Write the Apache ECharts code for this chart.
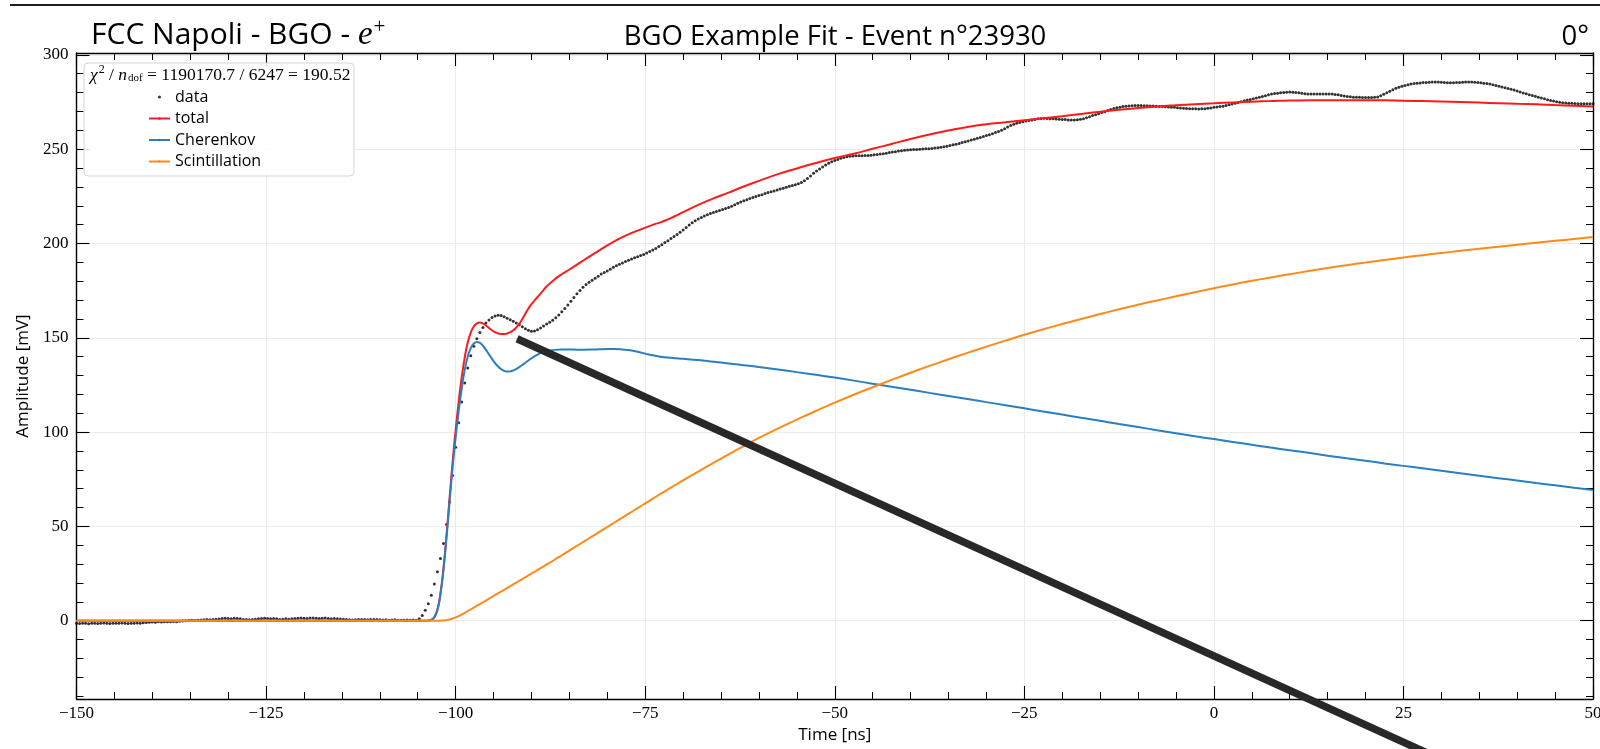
<!DOCTYPE html>
<html>
<head>
<meta charset="utf-8">
<title>BGO Example Fit - Event n°23930</title>
<script src="https://cdn.jsdelivr.net/npm/echarts@6/dist/echarts.min.js"></script>
<style>
  html, body { margin: 0; padding: 0; background: #ffffff; }
  #chart { width: 1600px; height: 749px; }
</style>
</head>
<body>
<div id="chart"></div>
<script>
// Digitizer time base: first sample and sampling period [ns]
const T0 = -150;
const DT = 0.4;

// Recorded waveform amplitude [mV], one value per sample starting at T0
const dataAmp = [
  // -150.0 ns
  -1.4, -1.5, -1.3, -1.4, -1.6, -1.4, -1.3, -1.5, -1.4, -1.2,
  -1.4, -1.5, -1.3, -1.4, -1.4, -1.2, -1.3, -1.5, -1.4, -1.3,
  -1.2, -1.3, -1.1,
  // -140.8 ns
  -0.9, -0.8, -0.7, -0.8, -0.6, -0.7, -0.5, -0.6, -0.5, -0.4, -0.5, -0.3, -0.2,
  // -135.6 ns
  0.0, 0.1, 0.2, 0.1, 0.3, 0.4, 0.5,
  0.6, 0.5, 0.7, 0.8, 0.9,
  1.2, 1.3, 1.2, 1.1, 1.3, 1.2, 1.0,
  0.7, 0.6, 0.5, 0.6, 0.8,
  1.1, 1.2, 1.3, 1.2, 1.1, 1.2, 1.0,
  0.7, 0.8, 1.1, 0.8, 1.0,
  // -121.2 ns
  1.2, 1.3, 1.4, 1.3, 1.2, 1.4, 1.5, 1.3, 1.2, 1.3, 1.4, 1.2, 1.1, 1.2, 1.0, 0.9, 0.8,
  // -114.4 ns
  0.6, 0.5, 0.4, 0.5, 0.6, 0.7, 0.6, 0.5, 0.6, 0.7, 0.6, 0.5, 0.4, 0.5, 0.3, 0.4,
  0.5, 0.3, 0.2, 0.3, 0.4, 0.3, 0.4,
  // -105.2 ns : leading edge
  0.3, 1.0, 2.8, 5.5, 9.0, 13.5, 19.5, 26.0, 33.0, 41.0,
  51.0, 63.0, 77.0, 92.0, 105.0, 116.0, 126.0, 134.0, 140.5, 145.5,
  149.5, 152.8, 155.5, 157.8, 159.5, 160.8, 161.6, 162.0, 161.8, 161.2,
  160.4, 159.6, 158.8, 157.9, 156.9, 155.8, 154.8, 154.0, 153.5, 153.6,
  // -89.2 ns
  154.3, 155.2, 156.2, 157.3, 158.3, 159.3, 160.6, 162.1, 163.8, 165.5,
  167.4, 169.4, 171.4, 173.3, 175.1, 176.8, 178.2, 179.4, 180.5, 181.6,
  182.7, 183.8, 184.6, 185.4, 186.4, 187.4, 188.2, 189.0, 189.7, 190.4,
  191.1, 191.8, 192.4, 193.0, 193.6, 194.2, 194.9, 195.7, 196.5, 197.4,
  // -73.2 ns
  198.4, 199.4, 200.5, 201.5, 202.6, 203.7, 204.8, 206.0, 207.2, 208.5,
  209.8, 211.0, 212.1, 213.0, 213.8, 214.6, 215.3, 215.9, 216.5, 217.0,
  217.5, 218.0, 218.5, 219.1, 219.8, 220.5, 221.3, 222.0, 222.7, 223.2,
  223.8, 224.4, 224.9, 225.4, 225.9, 226.5, 227.0, 227.5, 227.9, 228.4,
  // -57.2 ns
  228.9, 229.3, 229.8, 230.3, 230.8, 231.2, 231.7, 232.4, 233.3, 234.4,
  235.8, 237.2, 238.4, 239.5, 240.6, 241.6, 242.5, 243.3, 244.0, 244.6,
  245.2, 245.6, 246.0, 246.3, 246.4, 246.5, 246.5, 246.5, 246.6, 246.7,
  246.8, 247.0, 247.2, 247.4, 247.6, 247.9, 248.2, 248.5, 248.7, 249.0,
  // -41.2 ns
  249.2, 249.4, 249.6, 249.7, 249.8, 249.9, 250.0, 250.1, 250.2, 250.3,
  250.4, 250.6, 250.8, 251.0, 251.3, 251.6, 252.0, 252.3, 252.6, 253.0,
  253.5, 254.0, 254.4, 254.9, 255.3, 255.8, 256.2, 256.7, 257.2, 257.7,
  258.2, 258.8, 259.4, 260.1, 260.9, 261.8, 262.6, 263.2, 263.8, 264.2,
  // -25.2 ns
  264.6, 264.9, 265.2, 265.5, 265.8, 266.1, 266.3, 266.4, 266.3, 266.2,
  266.1, 266.0, 265.9, 265.8, 265.7, 265.5, 265.5, 265.5, 265.6, 265.9,
  266.2, 266.7, 267.2, 267.8, 268.3, 268.8, 269.4, 269.9, 270.5, 271.0,
  271.6, 272.0, 272.3, 272.6, 272.8, 272.9, 273.0, 273.1, 273.1, 273.1,
  // -9.2 ns
  273.0, 273.0, 272.9, 272.9, 272.8, 272.7, 272.6, 272.5, 272.4, 272.3,
  272.2, 272.0, 271.9, 271.7, 271.6, 271.5, 271.5, 271.4, 271.3, 271.4,
  271.5, 271.7, 271.9, 272.2, 272.4, 272.6, 272.8, 273.2, 273.6, 274.0,
  274.4, 274.8, 275.2, 275.7, 276.1, 276.4, 276.8, 277.1, 277.5, 277.9,
  // 6.8 ns
  278.4, 278.8, 279.2, 279.5, 279.7, 279.9, 280.0, 280.2, 280.3, 280.2,
  280.1, 279.9, 279.6, 279.4, 279.3, 279.3, 279.3, 279.3, 279.3, 279.3,
  279.3, 279.3, 279.2, 279.0, 278.8, 278.5, 278.2, 278.0, 277.8, 277.6,
  277.5, 277.5, 277.4, 277.4, 277.4, 277.4, 277.5, 277.7, 278.3, 279.1,
  // 22.8 ns
  279.9, 280.7, 281.5, 282.3, 282.8, 283.4, 283.8, 284.2, 284.5, 284.8,
  285.0, 285.1, 285.3, 285.4, 285.5, 285.6, 285.6, 285.6, 285.5, 285.4,
  285.2, 285.2, 285.2, 285.3, 285.4, 285.5, 285.6, 285.6, 285.6, 285.5,
  285.4, 285.2, 285.0, 284.8, 284.5, 284.2, 283.8, 283.4, 283.0, 282.6,
  // 38.8 ns
  282.2, 281.8, 281.4, 280.8, 280.3, 279.8, 279.4, 278.9, 278.5, 278.1,
  277.6, 277.2, 276.7, 276.2, 275.8, 275.5, 275.2, 274.9, 274.6, 274.5,
  274.4, 274.3, 274.2, 274.1, 274.1, 274.1, 274.1, 274.1, 274.1
];

// Fit model evaluated at these times [ns]
const fitTime = [
  -150, -125, -106, -104.4, -104.0, -103.6, -103.2, -102.8, -102.4, -102.0,
  -101.6, -101.2, -100.8, -100.4, -100.0, -99.6, -99.2, -98.8, -98.4, -98.0,
  -97.6, -97.2, -96.8, -96.4, -96.0, -95.6, -95.2, -94.8, -94.4, -94.0,
  -93.6, -93.2, -92.8, -92.4, -92.0, -91.6, -91.2, -90.8, -90.4, -90.0,
  -89.5, -89, -88.5, -88, -87, -86, -85, -84, -83, -82,
  -81, -80, -79, -78, -77, -76, -75, -74, -73, -72,
  -71, -70, -68, -66, -64, -62, -60, -57.5, -55, -52.5,
  -50, -47.5, -45, -42.5, -40, -37.5, -35, -32.5, -30, -27.5,
  -25, -22.5, -20, -17.5, -15, -12.5, -10, -7.5, -5, -2.5,
  0, 2.5, 5, 7.5, 10, 12.5, 15, 17.5, 20, 22.5,
  25, 27.5, 30, 32.5, 35, 37.5, 40, 42.5, 45, 47.5, 50
];

// Total fit [mV]
const totalAmp = [
  0, 0, 0, 0, 0, 0.1, 0.5, 2, 6, 14.5,
  28, 45.5, 65, 84, 101, 116, 129, 139.5, 147.5, 152.8,
  156, 157.7, 158.1, 157.6, 156.5, 155.2, 154, 153, 152.3, 152,
  152, 152.3, 153, 154, 155.5, 157.5, 160, 162.8, 165.5, 167.8,
  170.2, 172.5, 174.9, 177.2, 180.8, 183.7, 186.2, 188.8, 191.4, 194,
  196.5, 199, 201.3, 203.4, 205.2, 206.8, 208.4, 209.9, 211.2, 212.8,
  214.6, 216.6, 220.5, 223.9, 227, 230.2, 233.2, 236.8, 239.8, 242.7,
  245.3, 247.6, 250.2, 252.8, 255.4, 257.8, 259.9, 261.8, 263.2, 264.3,
  265.4, 266.4, 267.5, 268.7, 269.8, 270.9, 271.9, 272.7, 273.3, 273.8,
  274.3, 274.8, 275.2, 275.5, 275.8, 275.9, 276, 276, 276, 275.9,
  275.7, 275.5, 275.3, 275, 274.7, 274.4, 274.1, 273.8, 273.4, 273, 272.6
];

// Cherenkov component [mV]
const cherenkovAmp = [
  0, 0, 0, 0, 0, 0.1, 0.4, 1.8, 5.5, 14,
  27, 44, 63, 81, 97, 111, 123, 133, 140, 144.5,
  147, 147.8, 147.3, 145.8, 143.6, 141.2, 138.8, 136.6, 134.8, 133.4,
  132.5, 132.1, 132.2, 132.7, 133.5, 134.5, 135.6, 136.8, 138, 139.1,
  140.4, 141.5, 142.4, 143, 143.6, 143.8, 143.8, 143.7, 143.7, 143.8,
  143.9, 144, 144, 143.8, 143.4, 142.6, 141.6, 140.7, 140, 139.5,
  139.2, 138.9, 138.2, 137.3, 136.4, 135.5, 134.5, 133.2, 131.8, 130.4,
  128.9, 127.3, 125.7, 124.1, 122.5, 120.8, 119.2, 117.6, 115.9, 114.3,
  112.6, 110.9, 109.3, 107.6, 106, 104.3, 102.7, 101, 99.4, 97.8,
  96.3, 94.8, 93.3, 91.8, 90.4, 89, 87.5, 86.1, 84.8, 83.4,
  82.1, 80.8, 79.5, 78.2, 76.9, 75.6, 74.3, 73, 71.8, 70.5, 69.3
];

// Scintillation component [mV]
const scintAmp = [
  0, 0, 0, 0, 0, 0, 0, 0, 0, 0.05,
  0.15, 0.35, 0.7, 1.2, 1.8, 2.5, 3.3, 4.2, 5.1, 6.0,
  7.0, 7.9, 8.8, 9.8, 10.7, 11.7, 12.6, 13.6, 14.5, 15.5,
  16.4, 17.4, 18.3, 19.3, 20.2, 21.2, 22.1, 23.1, 24.0, 25.0,
  26.2, 27.4, 28.6, 29.8, 32.2, 34.7, 37.2, 39.7, 42.2, 44.7,
  47.2, 49.7, 52.2, 54.7, 57.2, 59.7, 62.2, 64.7, 67.2, 69.6,
  72.0, 74.4, 79.1, 83.7, 88.2, 92.6, 96.9, 101.9, 106.6, 111.2,
  115.6, 119.8, 123.8, 127.7, 131.5, 135.1, 138.6, 142, 145.3, 148.5,
  151.6, 154.5, 157.3, 160, 162.6, 165.1, 167.5, 169.8, 172, 174.2,
  176.3, 178.3, 180.2, 182, 183.7, 185.4, 187, 188.5, 189.9, 191.3,
  192.6, 193.8, 195, 196.1, 197.2, 198.3, 199.4, 200.4, 201.4, 202.4, 203.4
];

// Hand-drawn pointer stroke, in data coordinates (time [ns], amplitude [mV])
const pointerTime = [-91.9, 35];
const pointerAmp = [149.5, -82.7];

// Axis ticks
const xTickValues = [-150, -125, -100, -75, -50, -25, 0, 25, 50];
const yTickValues = [0, 50, 100, 150, 200, 250, 300];
const yMinorTickValues = [-40, -30, -20, -10, 10, 20, 30, 40, 60, 70, 80, 90,
  110, 120, 130, 140, 160, 170, 180, 190, 210, 220, 230, 240, 260, 270, 280, 290];

const X_MIN = -150, X_MAX = 50, Y_MIN = -41.5, Y_MAX = 301;

const waveform = dataAmp.map((v, i) => [+(T0 + i * DT).toFixed(1), v]);
const zipFit = arr => fitTime.map((t, i) => [t, arr[i]]);

const TICK_FONT = 'Liberation Serif';
const SANS = 'Open Sans';
const minusSign = v => String(v).replace('-', '\u2212');

const frameLine = { show: true, onZero: false, lineStyle: { color: '#000', width: 1.4 } };
const hiddenLine = { show: false, onZero: false };
const majorTick = (vals) => ({ show: true, inside: true, length: 13, customValues: vals,
  lineStyle: { color: '#000', width: 1.1 } });
const minorTickY = (vals) => ({ show: true, inside: true, length: 7, customValues: vals,
  lineStyle: { color: '#000', width: 1 } });
const minorTickX = { show: true, splitNumber: 5, length: 7, lineStyle: { color: '#000', width: 1 } };

const chart = echarts.init(document.getElementById('chart'), null, { renderer: 'canvas' });

chart.setOption({
  animation: false,
  backgroundColor: '#ffffff',
  title: [
    {
      text: '{t|FCC Napoli - BGO - }{e|e}{s|+}',
      left: 86, top: 12,
      textStyle: {
        fontWeight: 'normal',
        rich: {
          t: { fontFamily: SANS, fontSize: 30, fontWeight: 'normal', color: '#000' },
          e: { fontFamily: 'Liberation Serif', fontStyle: 'italic', fontWeight: 'normal', fontSize: 33, color: '#000' },
          s: { fontFamily: 'Liberation Serif', fontWeight: 'normal', fontSize: 21, color: '#000', padding: [0, 0, 16, 1] }
        }
      }
    },
    {
      text: 'BGO Example Fit - Event n°23930',
      left: 830, top: 18, textAlign: 'center',
      textStyle: { fontFamily: SANS, fontSize: 27.5, fontWeight: 'normal', color: '#000' }
    },
    {
      text: '0°',
      right: 6, top: 18,
      textStyle: { fontFamily: SANS, fontSize: 27.5, fontWeight: 'normal', color: '#000' }
    }
  ],
  grid: {
    left: 76.5, right: 7, top: 53, bottom: 50,
    containLabel: false, outerBoundsMode: 'none',
    show: false
  },
  legend: {
    orient: 'vertical',
    left: 148, top: 89,
    padding: 0,
    itemWidth: 21, itemHeight: 3, itemGap: 5.5,
    selectedMode: false,
    textStyle: { fontFamily: SANS, fontSize: 16, color: '#000' },
    data: ['data', 'total', 'Cherenkov', 'Scintillation']
  },
  graphic: [
    {
      type: 'line', z: 100,
      shape: { x1: 10, y1: 5, x2: 1600, y2: 5 },
      style: { stroke: '#1d1d2b', lineWidth: 2 }
    },
    {
      type: 'rect', z: 3,
      shape: { x: 84, y: 63, width: 270, height: 113, r: 4 },
      style: { fill: 'rgba(255,255,255,0.85)', stroke: '#d4d4d4', lineWidth: 1 }
    },
    {
      type: 'text', z: 5,
      left: 90, top: 64,
      style: {
        text: '{m|\u03c7}{sup|2}{r| / }{m|n}{sub|dof}{r| = 1190170.7 / 6247 = 190.52}',
        fill: '#000',
        rich: {
          m: { fontFamily: 'Liberation Serif', fontStyle: 'italic', fontSize: 17.5, fill: '#000' },
          r: { fontFamily: 'Liberation Serif', fontSize: 17.5, fill: '#000' },
          sup: { fontFamily: 'Liberation Serif', fontSize: 12, fill: '#000', padding: [0, 0, 10, 1] },
          sub: { fontFamily: 'Liberation Serif', fontSize: 11, fill: '#000', padding: [7, 0, 0, 1] }
        }
      }
    }
  ],
  xAxis: [
    {
      type: 'value', position: 'bottom',
      min: X_MIN, max: X_MAX, interval: 25,
      axisLine: frameLine,
      axisTick: majorTick(xTickValues),
      minorTick: minorTickX,
      splitLine: { show: true, lineStyle: { color: '#ebebeb', width: 1 } },
      axisLabel: {
        customValues: xTickValues,
        formatter: minusSign,
        fontFamily: TICK_FONT, fontSize: 17, color: '#000', margin: 6
      },
      name: 'Time [ns]', nameLocation: 'middle', nameGap: 27,
      nameTextStyle: { fontFamily: SANS, fontSize: 17, color: '#000' }
    },
    {
      type: 'value', position: 'top',
      min: X_MIN, max: X_MAX, interval: 25,
      axisLine: frameLine,
      axisTick: majorTick(xTickValues),
      minorTick: minorTickX,
      splitLine: { show: false },
      axisLabel: { show: false }
    }
  ],
  yAxis: [
    {
      type: 'value', position: 'left',
      min: Y_MIN, max: Y_MAX,
      axisLine: frameLine,
      axisTick: majorTick(yTickValues),
      splitLine: { show: true, lineStyle: { color: '#ebebeb', width: 1 } },
      axisLabel: {
        customValues: yTickValues,
        formatter: minusSign,
        fontFamily: TICK_FONT, fontSize: 17, color: '#000', margin: 8
      },
      name: 'Amplitude [mV]', nameLocation: 'middle', nameGap: 43,
      nameTextStyle: { fontFamily: SANS, fontSize: 17, color: '#000' }
    },
    {
      type: 'value', position: 'left',
      min: Y_MIN, max: Y_MAX,
      axisLine: hiddenLine,
      axisTick: minorTickY(yMinorTickValues),
      splitLine: { show: false },
      axisLabel: { show: false }
    },
    {
      type: 'value', position: 'right',
      min: Y_MIN, max: Y_MAX,
      axisLine: frameLine,
      axisTick: majorTick(yTickValues),
      splitLine: { show: false },
      axisLabel: { show: false }
    },
    {
      type: 'value', position: 'right',
      min: Y_MIN, max: Y_MAX,
      axisLine: hiddenLine,
      axisTick: minorTickY(yMinorTickValues),
      splitLine: { show: false },
      axisLabel: { show: false }
    }
  ],
  series: [
    {
      name: 'data', type: 'scatter',
      xAxisIndex: 0, yAxisIndex: 0,
      symbol: 'circle', symbolSize: 3,
      itemStyle: { color: '#000000' },
      silent: true,
      data: waveform
    },
    {
      name: 'total', type: 'line',
      xAxisIndex: 0, yAxisIndex: 0,
      showSymbol: false, symbol: 'none',
      smooth: 0.5,
      lineStyle: { color: '#ff1a1a', width: 2 },
      itemStyle: { color: '#ff1a1a' },
      silent: true,
      data: zipFit(totalAmp)
    },
    {
      name: 'Cherenkov', type: 'line',
      xAxisIndex: 0, yAxisIndex: 0,
      showSymbol: false, symbol: 'none',
      smooth: 0.5,
      lineStyle: { color: '#2b7fc0', width: 2 },
      itemStyle: { color: '#2b7fc0' },
      silent: true,
      data: zipFit(cherenkovAmp)
    },
    {
      name: 'Scintillation', type: 'line',
      xAxisIndex: 0, yAxisIndex: 0,
      showSymbol: false, symbol: 'none',
      smooth: 0.5,
      lineStyle: { color: '#ff8a1c', width: 2 },
      itemStyle: { color: '#ff8a1c' },
      silent: true,
      data: zipFit(scintAmp)
    },
    {
      name: 'pointer', type: 'line',
      xAxisIndex: 0, yAxisIndex: 0,
      showSymbol: false, symbol: 'none',
      clip: false, z: 10,
      lineStyle: { color: '#282828', width: 7.5, cap: 'butt' },
      silent: true,
      data: pointerTime.map((t, i) => [t, pointerAmp[i]])
    }
  ]
});
</script>
</body>
</html>
